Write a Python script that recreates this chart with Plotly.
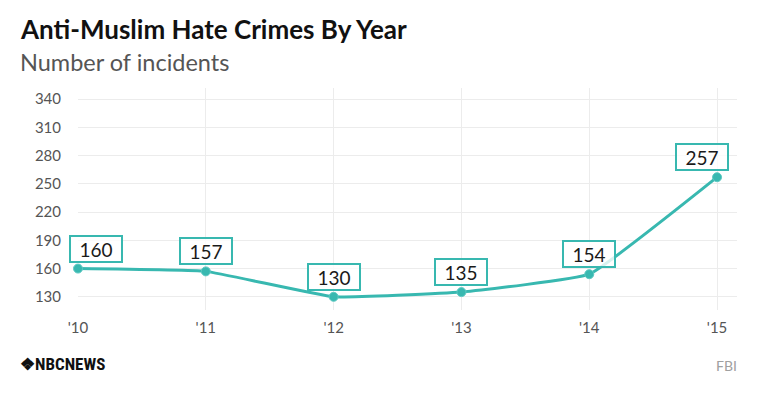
import plotly.graph_objects as go

years = ["'10", "'11", "'12", "'13", "'14", "'15"]
incidents = [160, 157, 130, 135, 154, 257]
y_ticks = [130, 160, 190, 220, 250, 280, 310, 340]

teal = "#38b8b0"
FONT = "Lato"
OFF = 8  # page body margin in browser

W, H = 760, 399
L, T = 78 - OFF, 88 - OFF
R = W - (737 - OFF)
B = H - (310 - OFF)
plot_w = W - L - R
plot_h = H - T - B

xs = list(range(len(years)))

fig = go.Figure()
fig.add_trace(go.Scatter(
    x=xs, y=incidents, mode="lines+markers",
    line=dict(color=teal, width=3, shape="spline", smoothing=0.3),
    marker=dict(size=9, color=teal, line=dict(color="#5fcac3", width=1)),
    hoverinfo="skip", showlegend=False, cliponaxis=False,
))

xshifts = [18, 0, 0, 0, 0, -15]
for i, (x, v) in enumerate(zip(xs, incidents)):
    fig.add_annotation(
        x=x, y=v, xref="x", yref="y", text=str(v), showarrow=False,
        xanchor="center", yanchor="bottom", yshift=6, xshift=xshifts[i],
        font=dict(family=FONT, size=19, color="#1a1a1a"),
        bgcolor="rgba(255,255,255,0.8)", bordercolor=teal, borderwidth=2,
        borderpad=2, width=46, height=20,
    )


def px(xp):
    return (xp - OFF - L) / plot_w


def py(yp):
    return (H - B - (yp - OFF)) / plot_h


fig.add_annotation(x=px(18), y=py(29), xref="paper", yref="paper",
                   text="<b>Anti-Muslim Hate Crimes By Year</b>", showarrow=False,
                   xanchor="left", yanchor="middle",
                   font=dict(family=FONT, size=26, color="#111"))
fig.add_annotation(x=px(18), y=py(62), xref="paper", yref="paper",
                   text="Number of incidents", showarrow=False,
                   xanchor="left", yanchor="middle",
                   font=dict(family=FONT, size=23.5, color="#555"))
fig.add_annotation(x=px(18), y=py(364), xref="paper", yref="paper",
                   text="<b>\u2756NBCNEWS</b>", showarrow=False,
                   xanchor="left", yanchor="middle",
                   font=dict(family="Roboto Condensed, Liberation Sans Narrow, Roboto", size=17, color="#111"))
fig.add_annotation(x=px(739), y=py(365), xref="paper", yref="paper",
                   text="FBI", showarrow=False,
                   xanchor="right", yanchor="middle",
                   font=dict(family=FONT, size=14, color="#a0a0a0"))

fig.update_layout(
    width=W, height=H,
    margin=dict(l=L, r=R, t=T, b=B, autoexpand=False),
    paper_bgcolor="white", plot_bgcolor="white",
    font=dict(family=FONT, color="#555"),
    xaxis=dict(
        tickmode="array", tickvals=xs, ticktext=years,
        range=[0, 5.156], showgrid=True, gridcolor="#ececec", gridwidth=1,
        zeroline=False, showline=False, ticks="outside", ticklen=4,
        tickcolor="rgba(0,0,0,0)", tickfont=dict(size=15, color="#555"),
        fixedrange=True,
    ),
    yaxis=dict(
        tickmode="array", tickvals=y_ticks, range=[116, 351.7],
        showgrid=True, gridcolor="#ececec", gridwidth=1, zeroline=False,
        showline=False, ticks="outside", ticklen=13, tickcolor="rgba(0,0,0,0)",
        tickfont=dict(size=15, color="#555"), fixedrange=True,
    ),
)

fig.write_html("out.html")
